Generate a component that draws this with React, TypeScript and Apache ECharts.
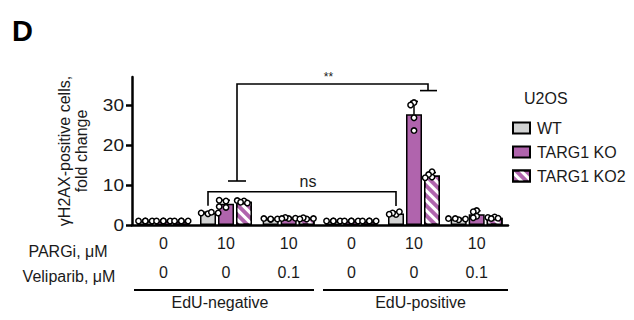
import React, { useEffect, useRef } from "react";
import * as echarts from "echarts";

// ---- data ----
const pargi = ["0", "10", "10", "0", "10", "10"];
const veliparib = ["0", "0", "0.1", "0", "0", "0.1"];
const categories = pargi.map((p, i) => `${p}|${veliparib[i]}|${i}`);
const groupNames = ["EdU-negative", "EdU-positive"];
const seriesNames = ["WT", "TARG1 KO", "TARG1 KO2"];

const wtMean = [1, 3.0, 1.5, 1, 2.9, 1.5];
const koMean = [1, 5.3, 1.7, 1, 27.7, 2.7];
const ko2Mean = [1, 5.8, 1.6, 1, 12.4, 1.8];

const wtSd = [0, 0.2, 0.1, 0, 0.3, 0.15];
const koSd = [0, 0.9, 0.15, 0, 3.2, 0.85];
const ko2Sd = [0, 0.3, 0.15, 0, 0.7, 0.18];

const wtReps = [[1, 1, 1, 1], [2.8, 3.0, 3.2, 3.0], [1.4, 1.6, 1.5, 1.5], [1, 1, 1, 1], [2.6, 3.0, 3.3, 2.7], [1.3, 1.6, 1.5, 1.6]];
const koReps = [[1, 1, 1, 1], [6.0, 6.2, 4.4, 4.6], [1.6, 1.9, 1.7, 1.6], [1, 1, 1, 1], [30.6, 30.0, 26.8, 23.6], [3.6, 3.3, 2.2, 1.8]];
const ko2Reps = [[1, 1, 1, 1], [6.0, 6.1, 5.7, 5.5], [1.5, 1.8, 1.6, 1.5], [1, 1, 1, 1], [12.0, 13.3, 12.6, 11.8], [2.0, 1.9, 1.6, 1.7]];

const yTicks = [0, 10, 20, 30];

const means = [wtMean, koMean, ko2Mean];
const sds = [wtSd, koSd, ko2Sd];
const reps = [wtReps, koReps, ko2Reps];

// ---- style ----
const FONT = "'Liberation Sans', Arial, sans-serif";
const TXT = "#1a1a1a";
const colors = ["#d2d3d3", "#b064ad", "#b064ad"];
const BAR_W = 16;
const BAR_GAP_PX = 2;
const STEP = BAR_W + BAR_GAP_PX;

export default function App() {
  const ref = useRef<HTMLDivElement>(null);

  useEffect(() => {
    if (!ref.current) return;
    const chart = echarts.init(ref.current, undefined, { renderer: "svg" });

    const barSeries = seriesNames.map((name, s) => ({
      name,
      type: "bar",
      data: means[s],
      barWidth: BAR_W,
      barGap: `${(BAR_GAP_PX / BAR_W) * 100}%`,
      itemStyle: {
        color: colors[s],
        borderColor: "#000",
        borderWidth: 1.5,
        ...(s === 2
          ? {
              decal: {
                symbol: "rect",
                symbolSize: 1,
                color: "#ffffff",
                dashArrayX: [1, 0],
                dashArrayY: [3, 4],
                rotation: Math.PI / 4,
              },
            }
          : {}),
      },
      z: 2,
    }));

    const dotData: number[][] = [];
    for (let s = 0; s < 3; s++) for (let c = 0; c < 6; c++) dotData.push([c, means[s][c], s]);

    const dotSeries = {
      type: "custom",
      z: 5,
      data: dotData,
      encode: { x: 0, y: 1 },
      renderItem: (params: any, api: any) => {
        const c = api.value(0);
        const s = api.value(2);
        const base = api.coord([c, 0]);
        const cx = base[0] + (s - 1) * STEP;
        const children: any[] = [];
        const m = means[s][c];
        const sd = sds[s][c];
        if (sd > 0) {
          const y0 = api.coord([c, m])[1];
          const y1 = api.coord([c, m + sd])[1];
          children.push({ type: "line", shape: { x1: cx, y1: y0, x2: cx, y2: y1 }, style: { stroke: "#000", lineWidth: 1.5 } });
          children.push({ type: "line", shape: { x1: cx - 4, y1: y1, x2: cx + 4, y2: y1 }, style: { stroke: "#000", lineWidth: 1.5 } });
        }
        const placed: number[][] = [];
        const stepX = 3.4;
        const minD = 3.6;
        for (const v of reps[s][c]) {
          const y = api.coord([c, v])[1];
          let x = cx;
          for (const k of [0, -1, 1, -2, 2, -3, 3]) {
            const tx = cx + k * stepX;
            if (placed.every((p) => Math.hypot(p[0] - tx, p[1] - y) >= minD)) {
              x = tx;
              break;
            }
          }
          placed.push([x, y]);
        }
        placed.forEach((p) =>
          children.push({ type: "circle", shape: { cx: p[0], cy: p[1], r: 2.7 }, style: { fill: "#fff", stroke: "#000", lineWidth: 1.5 } })
        );
        return { type: "group", children };
      },
    };

    chart.setOption({
      animation: false,
      textStyle: { fontFamily: FONT },
      grid: { left: 132, right: 126, top: 77, bottom: 95, containLabel: false },
      legend: {
        orient: "vertical",
        left: 507,
        top: 115,
        icon: "rect",
        itemWidth: 17,
        itemHeight: 11,
        itemGap: 8,
        data: seriesNames,
        textStyle: { fontSize: 16, color: TXT, fontFamily: FONT, padding: [0, 0, 0, 2] },
      },
      xAxis: {
        type: "category",
        data: categories,
        axisLine: { lineStyle: { color: "#000", width: 2.5 } },
        axisTick: { alignWithLabel: true, length: 6, lineStyle: { color: "#000", width: 2.5 } },
        axisLabel: {
          margin: 4,
          formatter: (_v: string, i: number) => `{a|${pargi[i]}}\n{a|${veliparib[i]}}`,
          rich: { a: { fontSize: 16, lineHeight: 29, color: TXT, fontFamily: FONT } },
        },
      },
      yAxis: {
        type: "value",
        min: 0,
        max: 37,
        interval: 10,
        splitLine: { show: false },
        axisLine: { show: true, lineStyle: { color: "#000", width: 2.5 } },
        axisTick: { show: true, length: 6, customValues: yTicks, lineStyle: { color: "#000", width: 2.5 } },
        axisLabel: { show: false },
      },
      series: [...barSeries, dotSeries],
    });

    const px = (c: number, off: number) => (chart.convertToPixel({ xAxisIndex: 0 }, c) as number) + off;
    const py = (v: number) => chart.convertToPixel({ yAxisIndex: 0 }, v) as number;
    const bw = px(1, 0) - px(0, 0);
    const ln = { stroke: "#000", lineWidth: 1.6, fill: null };

    // ns bracket: WT bar cat1 -> WT bar cat4
    const nsL = px(1, -STEP), nsR = px(4, -STEP), nsTop = py(8.3);
    // ** bracket: KO/KO2 cat1 -> cat4
    const stL = px(1, 11), stR = px(4, 14), stTop = py(35.25);

    const yRow = 290;
    const g1a = px(0, -bw / 2 + 2), g1b = px(2, bw / 2 - 6);
    const g2a = px(3, -bw / 2 + 3), g2b = px(5, bw / 2);

    const yLabels = yTicks.map((v) => ({
      type: "text",
      x: 124,
      y: py(v),
      scaleX: 1.12,
      style: { text: String(v), font: `17px ${FONT}`, fill: TXT, align: "right", verticalAlign: "middle" },
    }));

    chart.setOption({
      graphic: [
        ...yLabels,
        { type: "text", left: 12, top: 16, style: { text: "D", font: `bold 29px ${FONT}`, fill: "#000" } },
        {
          type: "text", x: 73, y: 151, rotation: Math.PI / 2,
          style: { text: "γH2AX-positive cells,\nfold change", font: `16px ${FONT}`, fill: TXT, align: "center", verticalAlign: "middle", lineHeight: 17 },
        },
        { type: "text", x: 68, y: 251, style: { text: "PARGi, μM", font: `16px ${FONT}`, fill: TXT, align: "center", verticalAlign: "middle" } },
        { type: "text", x: 69, y: 276, style: { text: "Veliparib, μM", font: `16px ${FONT}`, fill: TXT, align: "center", verticalAlign: "middle" } },
        { type: "line", shape: { x1: g1a, y1: yRow, x2: g1b, y2: yRow }, style: { stroke: "#000", lineWidth: 2 } },
        { type: "line", shape: { x1: g2a, y1: yRow, x2: g2b, y2: yRow }, style: { stroke: "#000", lineWidth: 2 } },
        { type: "text", x: (g1a + g1b) / 2 - 4, y: 302, style: { text: groupNames[0], font: `16px ${FONT}`, fill: TXT, align: "center", verticalAlign: "middle" } },
        { type: "text", x: (g2a + g2b) / 2 + 5, y: 302, style: { text: groupNames[1], font: `16px ${FONT}`, fill: TXT, align: "center", verticalAlign: "middle" } },
        { type: "text", x: 524, y: 98, style: { text: "U2OS", font: `16px ${FONT}`, fill: TXT, verticalAlign: "middle" } },
        { type: "polyline", shape: { points: [[nsL, py(4.8)], [nsL, nsTop], [nsR, nsTop], [nsR, py(4.75)]] }, style: ln },
        { type: "text", x: (nsL + nsR) / 2 + 6, y: nsTop - 2, style: { text: "ns", font: `16px ${FONT}`, fill: TXT, align: "center", verticalAlign: "bottom" } },
        { type: "polyline", shape: { points: [[stL, py(11)], [stL, stTop], [stR, stTop], [stR, py(33.6)]] }, style: ln },
        { type: "line", shape: { x1: stL - 9, y1: py(11), x2: stL + 9, y2: py(11) }, style: ln },
        { type: "line", shape: { x1: stR - 8, y1: py(33.6), x2: stR + 9, y2: py(33.6) }, style: ln },
        { type: "text", x: (stL + stR) / 2 - 4, y: stTop - 1, style: { text: "**", font: `12px ${FONT}`, fill: TXT, align: "center", verticalAlign: "bottom" } },
      ],
    });

    return () => chart.dispose();
  }, []);

  return <div ref={ref} style={{ position: "absolute", left: 0, top: 0, width: 634, height: 320 }} />;
}
